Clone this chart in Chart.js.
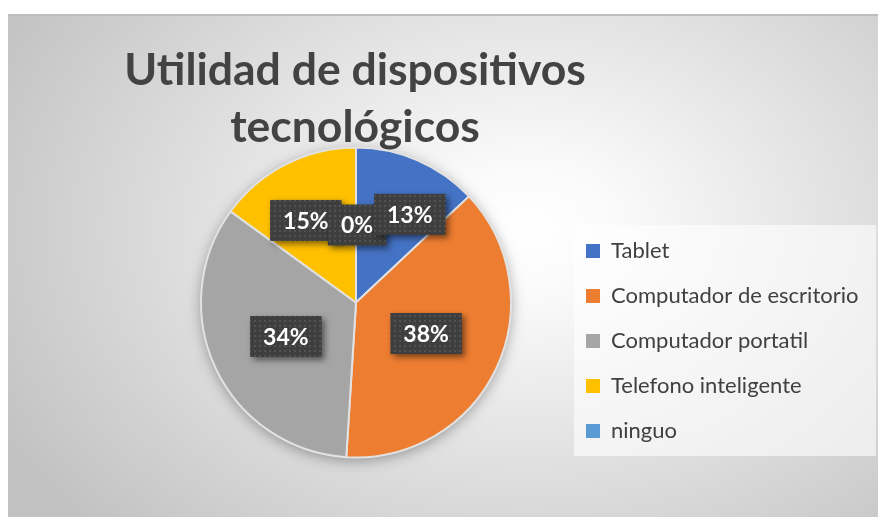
<!DOCTYPE html>
<html>
<head>
<meta charset="utf-8">
<script src="https://cdn.jsdelivr.net/npm/chart.js@4.4.0/dist/chart.umd.min.js"></script>
<style>
    html, body { margin: 0; padding: 0; background: #fff; }
    #wrap { position: absolute; left: 8px; top: 14px; width: 870px; height: 503px; }
</style>
</head>
<body>
<div id="wrap"><canvas id="devicesChart"></canvas></div>
<script>
var categories = ["Tablet", "Computador de escritorio", "Computador portatil", "Telefono inteligente", "ninguo"];
var percentages = [13, 38, 34, 15, 0];
var sliceColors = ["#4472C4", "#ED7D31", "#A5A5A5", "#FFC000", "#5B9BD5"];
var titleLines = ["Utilidad de dispositivos", "tecnológicos"];

// label tweaks (px) where the labels were moved to avoid overlapping
var labelNudge = [[23, -17], [0, -2], [0, 1], [-15, -13], [1, 0]];
var labelOrder = [1, 2, 3, 4, 0];

function dotPattern(ctx) {
    var c = document.createElement("canvas");
    c.width = 5; c.height = 5;
    var p = c.getContext("2d");
    p.fillStyle = "#3e3e3e";
    p.fillRect(0, 0, 5, 5);
    p.fillStyle = "#525252";
    p.fillRect(1, 1, 2, 2);
    return ctx.createPattern(c, "repeat");
}

var chartDecor = {
    id: "chartDecor",
    beforeDraw: function(chart) {
        var ctx = chart.ctx, w = chart.width, h = chart.height;
        ctx.save();
        // background
        ctx.save();
        ctx.translate(520, 215);
        ctx.scale(1, 0.72);
        var g = ctx.createRadialGradient(0, 0, 0, 0, 0, 600);
        g.addColorStop(0, "#ffffff");
        g.addColorStop(0.15, "#fafafa");
        g.addColorStop(1, "#c2c2c2");
        ctx.fillStyle = g;
        ctx.fillRect(-600, -600, 1400, 1400);
        ctx.restore();
        ctx.fillStyle = "#bdbdbd";
        ctx.fillRect(0, 0, w, 2);

        // legend panel
        var hb = chart.legend.legendHitBoxes;
        if (hb && hb.length) {
            var last = hb[hb.length - 1];
            var x0 = hb[0].left - 12, y0 = hb[0].top - 15;
            ctx.fillStyle = "rgba(255,255,255,0.6)";
            ctx.fillRect(x0, y0, w - 2 - x0, last.top + last.height + 14 - y0);
        }

        // title
        ctx.fillStyle = "#434343";
        ctx.textAlign = "center";
        ctx.textBaseline = "alphabetic";
        ctx.font = "bold 44.5px Lato";
        ctx.fillText(titleLines[0], 347, 71);
        ctx.fillText(titleLines[1], 347, 128);
        ctx.restore();
    },
    beforeDatasetsDraw: function(chart) {
        var arc = chart.getDatasetMeta(0).data[0];
        if (!arc) return;
        var ctx = chart.ctx;
        ctx.save();
        ctx.shadowColor = "rgba(0,0,0,0.35)";
        ctx.shadowBlur = 14;
        ctx.shadowOffsetY = 3;
        ctx.fillStyle = "#d9d9d9";
        ctx.beginPath();
        ctx.arc(arc.x, arc.y, arc.outerRadius, 0, Math.PI * 2);
        ctx.fill();
        ctx.restore();
    },
    afterDatasetsDraw: function(chart) {
        var ctx = chart.ctx;
        var meta = chart.getDatasetMeta(0);
        var pat = dotPattern(ctx);
        ctx.save();
        ctx.font = "bold 23px Lato";
        ctx.textAlign = "center";
        ctx.textBaseline = "middle";
        labelOrder.forEach(function(i) {
            var p = meta.data[i].getProps(["x", "y", "startAngle", "endAngle", "outerRadius"]);
            var mid = (p.startAngle + p.endAngle) / 2;
            var cx = p.x + Math.cos(mid) * p.outerRadius * 0.5 + labelNudge[i][0];
            var cy = p.y + Math.sin(mid) * p.outerRadius * 0.5 + labelNudge[i][1];
            var txt = percentages[i] + "%";
            var bw = ctx.measureText(txt).width + 26, bh = 41;
            ctx.save();
            ctx.shadowColor = "rgba(0,0,0,0.5)";
            ctx.shadowBlur = 6;
            ctx.shadowOffsetX = 3;
            ctx.shadowOffsetY = 3;
            ctx.fillStyle = pat;
            ctx.fillRect(cx - bw / 2, cy - bh / 2, bw, bh);
            ctx.restore();
            ctx.fillStyle = "#ffffff";
            ctx.fillText(txt, cx, cy + 1);
        });
        ctx.restore();
    }
};

var ctx = document.getElementById("devicesChart");
new Chart(ctx, {
    type: "pie",
    data: {
        labels: categories,
        datasets: [{
            data: percentages,
            backgroundColor: sliceColors,
            borderColor: "#e2e2e2",
            borderWidth: 2
        }]
    },
    options: {
        responsive: true,
        maintainAspectRatio: false,
        animation: false,
        radius: 155,
        layout: { padding: { left: 141, top: 126, bottom: 52, right: 10 } },
        plugins: {
            title: { display: false },
            tooltip: { enabled: false },
            legend: {
                position: "right",
                align: "end",
                maxWidth: 305,
                labels: {
                    boxWidth: 14,
                    boxHeight: 14,
                    padding: 23,
                    color: "#404040",
                    font: { family: "Lato", size: 22 },
                    generateLabels: function(chart) {
                        var items = Chart.overrides.doughnut.plugins.legend.labels.generateLabels(chart);
                        items.forEach(function(it) { it.lineWidth = 0; });
                        return items;
                    }
                }
            }
        }
    },
    plugins: [chartDecor]
});
</script>
</body>
</html>
